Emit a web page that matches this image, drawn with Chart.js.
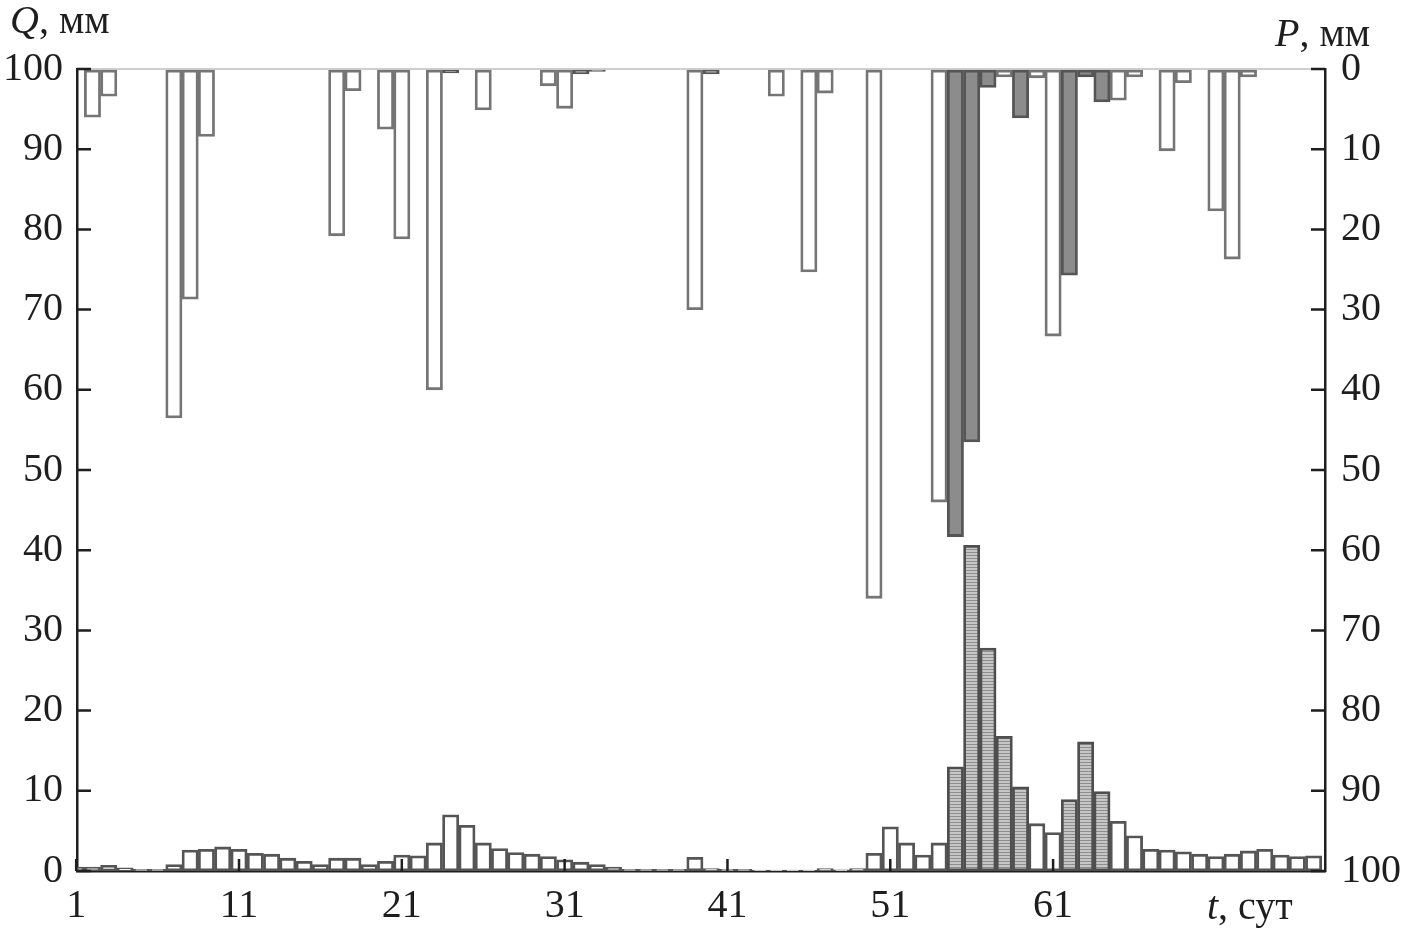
<!DOCTYPE html>
<html>
<head>
<meta charset="utf-8">
<script src="https://cdn.jsdelivr.net/npm/chart.js@4.4.1/dist/chart.umd.min.js"></script>
<style>
  html, body { margin: 0; padding: 0; background: #fff; }
  #wrap { width: 1406px; height: 934px; }
</style>
</head>
<body>
<div id="wrap"><canvas id="chart"></canvas></div>
<script>
// days, t (сут)
const days = [
  1, 2, 3, 4, 5, 6, 7, 8, 9, 10, 11, 12, 13, 14, 15, 16, 17, 18, 19, 20,
  21, 22, 23, 24, 25, 26, 27, 28, 29, 30, 31, 32, 33, 34, 35, 36, 37, 38, 39, 40,
  41, 42, 43, 44, 45, 46, 47, 48, 49, 50, 51, 52, 53, 54, 55, 56, 57, 58, 59, 60,
  61, 62, 63, 64, 65, 66, 67, 68, 69, 70, 71, 72, 73, 74, 75, 76, 77
];

// runoff Q, мм (left axis)
const qValues = [
  0.5, 0.5, 0.7, 0.4, 0.2, 0.2, 0.8, 2.6, 2.7, 3.0, 2.7, 2.2, 2.1, 1.6, 1.2, 0.8, 1.6, 1.6, 0.8, 1.2,
  2.0, 1.9, 3.5, 7.0, 5.7, 3.5, 2.8, 2.3, 2.1, 1.8, 1.4, 1.1, 0.8, 0.5, 0.2, 0.2, 0.2, 0.2, 1.7, 0.3,
  0.2, 0.2, 0.1, 0.1, 0.1, 0.1, 0.3, 0.15, 0.3, 2.2, 5.5, 3.5, 2.0, 3.5, 13.0, 40.6, 27.8, 16.8, 10.5, 5.9,
  4.8, 8.9, 16.1, 9.9, 6.2, 4.4, 2.7, 2.6, 2.4, 2.1, 1.8, 2.1, 2.5, 2.7, 2.0, 1.8, 1.9
];

// precipitation P, мм (right axis, reversed)
const pValues = [
  0, 6.0, 3.4, 0, 0, 0, 43.5, 28.7, 8.4, 0, 0, 0, 0, 0, 0, 0, 20.8, 2.7, 0, 7.5,
  21.2, 0, 40.0, 0.5, 0, 5.1, 0, 0, 0, 2.1, 4.9, 0.6, 0.3, 0, 0, 0, 0, 0, 30.0, 0.6,
  0, 0, 0, 3.4, 0, 25.3, 3.0, 0, 0, 66.0, 0, 0, 0, 54.0, 58.3, 46.5, 2.3, 1.0, 6.1, 1.1,
  33.3, 25.7, 1.0, 4.1, 3.9, 1.0, 0, 10.2, 1.7, 0, 17.7, 23.7, 1.0, 0, 0, 0, 0
];

// days drawn shaded
const qShadedDays = [55, 56, 57, 58, 59, 62, 63, 64];
const pShadedDays = [24, 32, 33, 40, 55, 56, 57, 59, 62, 63, 64];

const xTicks = [1, 11, 21, 31, 41, 51, 61];
const yTicks = [0, 10, 20, 30, 40, 50, 60, 70, 80, 90, 100];

const FONT = "'Liberation Serif', 'DejaVu Serif', serif";
const INK = '#1e1e1e';
const FS = 40;

// fine horizontal hatch for the shaded runoff bars
function makeHatch() {
  const c = document.createElement('canvas');
  c.width = 4; c.height = 3;
  const g = c.getContext('2d');
  g.fillStyle = '#c6c6c6';
  g.fillRect(0, 0, 4, 3);
  g.fillStyle = '#8e8e8e';
  g.fillRect(0, 0, 4, 1);
  return g.createPattern(c, 'repeat');
}
const hatch = makeHatch();

const qData = days.map((d, i) => ({ x: d, y: qValues[i] }));
const pData = days.map((d, i) => ({ x: d, y: pValues[i] > 0 ? pValues[i] : null }));

const inwardTicks = {
  id: 'inwardTicks',
  afterDraw(chart) {
    const { ctx, chartArea: a, scales } = chart;
    ctx.save();
    ctx.strokeStyle = INK;
    ctx.lineWidth = 2.5;
    ctx.beginPath();
    scales.yQ.ticks.forEach(t => {
      const y = scales.yQ.getPixelForValue(t.value);
      ctx.moveTo(a.left, y); ctx.lineTo(a.left + 14, y);
    });
    scales.yP.ticks.forEach(t => {
      const y = scales.yP.getPixelForValue(t.value);
      ctx.moveTo(a.right, y); ctx.lineTo(a.right - 14, y);
    });
    scales.x.ticks.forEach(t => {
      const x = scales.x.getPixelForValue(t.value);
      ctx.moveTo(x, a.bottom); ctx.lineTo(x, a.bottom - 12);
    });
    ctx.stroke();

    // axis titles: italic letter + regular units
    const title = (letter, rest, x, y, align) => {
      ctx.font = 'italic ' + FS + 'px ' + FONT;
      const w1 = ctx.measureText(letter).width;
      ctx.font = FS + 'px ' + FONT;
      const w2 = ctx.measureText(rest).width;
      const x0 = align === 'right' ? x - w1 - w2 : x;
      ctx.fillStyle = INK;
      ctx.textBaseline = 'alphabetic';
      ctx.textAlign = 'left';
      ctx.font = 'italic ' + FS + 'px ' + FONT;
      ctx.fillText(letter, x0, y);
      ctx.font = FS + 'px ' + FONT;
      ctx.fillText(rest, x0 + w1, y);
    };
    title('Q', ', мм', 10, 33, 'left');
    title('P', ', мм', 1370, 46, 'right');
    title('t', ', сут', 1207, 919, 'left');
    ctx.restore();
  }
};

new Chart(document.getElementById('chart'), {
  type: 'bar',
  data: {
    datasets: [
      {
        label: 'P',
        data: pData,
        yAxisID: 'yP',
        backgroundColor: c => pShadedDays.includes(c.raw && c.raw.x) ? '#8c8c8c' : '#ffffff',
        borderColor: c => pShadedDays.includes(c.raw && c.raw.x) ? '#555555' : '#757575',
        borderWidth: 2.8,
        borderSkipped: false,
        clip: 0,
        order: 2
      },
      {
        label: 'Q',
        data: qData,
        yAxisID: 'yQ',
        backgroundColor: c => qShadedDays.includes(c.raw && c.raw.x) ? hatch : '#ffffff',
        borderColor: c => qShadedDays.includes(c.raw && c.raw.x) ? '#4e4e4e' : '#555555',
        borderWidth: 2.8,
        borderSkipped: false,
        clip: 0,
        order: 1
      }
    ]
  },
  options: {
    responsive: true,
    maintainAspectRatio: false,
    animation: false,
    devicePixelRatio: 1,
    layout: { padding: { top: 69, left: 0, right: 0, bottom: 0 } },
    datasets: {
      bar: { barPercentage: 1, categoryPercentage: 1, grouped: false }
    },
    plugins: {
      legend: { display: false },
      tooltip: { enabled: false }
    },
    scales: {
      x: {
        type: 'linear',
        offset: false,
        min: 1.05,
        max: 77.7,
        afterBuildTicks: s => { s.ticks = xTicks.map(v => ({ value: v })); },
        afterFit: s => { s.height = 63; },
        grid: { display: false, drawTicks: false },
        border: { display: true, color: INK, width: 2.5 },
        ticks: {
          autoSkip: false, maxRotation: 0, padding: 11,
          color: INK, font: { family: FONT, size: FS }
        }
      },
      yQ: {
        position: 'left',
        min: 0, max: 100,
        afterBuildTicks: s => { s.ticks = yTicks.map(v => ({ value: v })); },
        afterFit: s => { s.width = 77; },
        grid: { display: false, drawTicks: false },
        border: { display: true, color: INK, width: 2.5 },
        ticks: { padding: 14, color: INK, font: { family: FONT, size: FS } }
      },
      yP: {
        position: 'right',
        reverse: true,
        min: 0, max: 100,
        afterBuildTicks: s => { s.ticks = yTicks.map(v => ({ value: v })); },
        afterFit: s => { s.width = 81; },
        grid: {
          display: true, drawTicks: false, lineWidth: 2,
          color: c => (c.tick && c.tick.value === 0) ? '#cfcfcf' : 'rgba(0,0,0,0)'
        },
        border: { display: true, color: INK, width: 2.5 },
        ticks: { padding: 16, color: INK, font: { family: FONT, size: FS } }
      }
    }
  },
  plugins: [inwardTicks]
});
</script>
</body>
</html>
